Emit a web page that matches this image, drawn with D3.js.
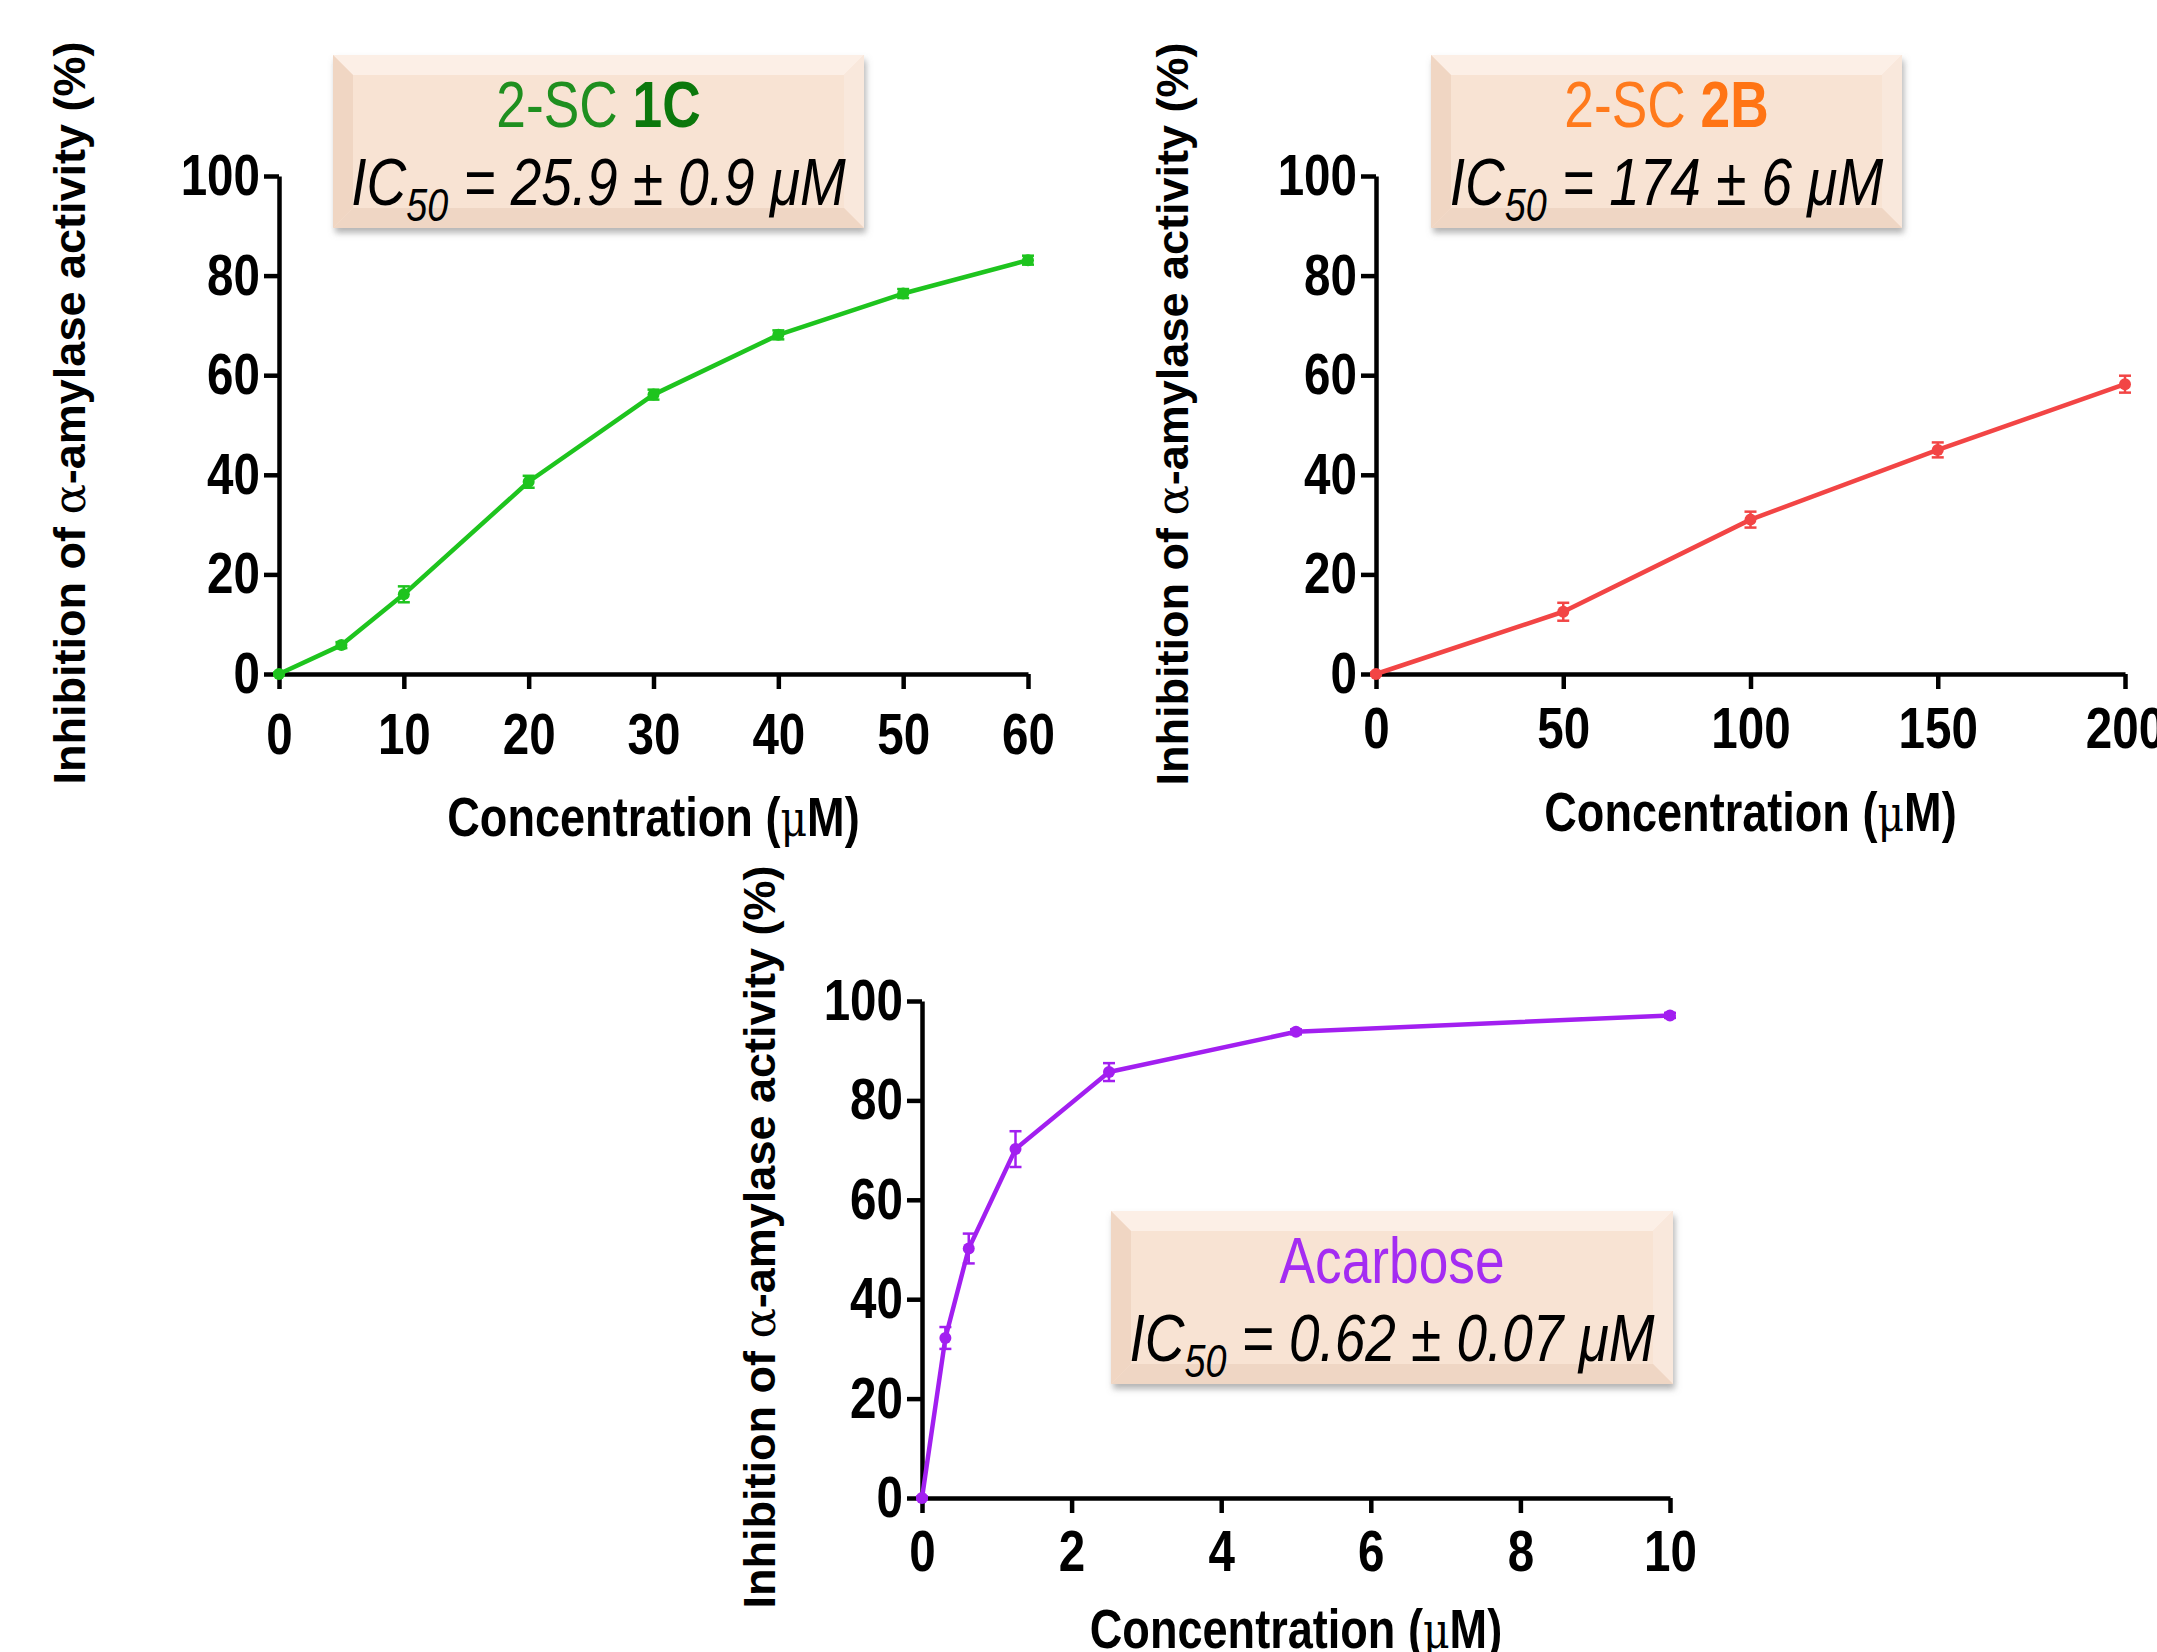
<!DOCTYPE html>
<html>
<head>
<meta charset="utf-8">
<script src="https://cdn.jsdelivr.net/npm/d3@7"></script>
<style>
  html, body { margin: 0; padding: 0; background: #fff; }
  svg { display: block; }
  text { font-family: "Liberation Sans", Arial, sans-serif; }
</style>
</head>
<body>
<script>
// Data
var conc1C = [0, 5, 10, 20, 30, 40, 50, 60];
var inh1C = [0, 5.8, 16, 38.6, 56.1, 68.1, 76.4, 83.1];
var err1C = [0.3, 0.6, 1.6, 1.2, 1.0, 0.9, 0.9, 0.9];

var conc2B = [0, 50, 100, 150, 200];
var inh2B = [0, 12.5, 31, 45, 58.2];
var err2B = [0.3, 1.8, 1.6, 1.5, 1.7];

var concAca = [0, 0.3125, 0.625, 1.25, 2.5, 5, 10];
var inhAca = [0, 32.2, 50.2, 70.2, 85.7, 93.8, 97.1];
var errAca = [0.3, 2.2, 3.0, 3.6, 1.8, 0.5, 0.5];

var yTicks = [0, 20, 40, 60, 80, 100];
var xTicks1C = [0, 10, 20, 30, 40, 50, 60];
var xTicks2B = [0, 50, 100, 150, 200];
var xTicksAca = [0, 2, 4, 6, 8, 10];

var yTitle = "Inhibition of ";
var xTitle = "Concentration (";

var W = 2157, H = 1652;
var SQ = 0.82; // horizontal squeeze, stands in for a narrow face

var svg = d3.select("body")
        .append("svg")
        .attr("width", W)
        .attr("height", H);

// drop shadow for the label boxes
var defs = svg.append("defs");
var f = defs.append("filter").attr("id", "shadow")
        .attr("x", "-10%").attr("y", "-10%").attr("width", "125%").attr("height", "140%");
f.append("feDropShadow").attr("dx", 2).attr("dy", 5).attr("stdDeviation", 3)
        .attr("flood-color", "#777").attr("flood-opacity", 0.55);

var panels = [
    {xs: conc1C, ys: inh1C, es: err1C, ticks: xTicks1C, xMax: 60,
     left: 279, right: 1028, top: 176, bottom: 674, color: "#1ec41e",
     xPad: 24, xTitleY: 836, yTitleX: 69, yTitleY: 413,
     box: [333, 55, 864, 228], name: "2-SC ", bold: "1C", nameColor: "#1f8f1f", boldColor: "#0c780c",
     ic: ["25.9", "0.9"]},
    {xs: conc2B, ys: inh2B, es: err2B, ticks: xTicks2B, xMax: 200,
     left: 1376, right: 2125, top: 176, bottom: 674, color: "#f24545",
     xPad: 18, xTitleY: 831, yTitleX: 1172, yTitleY: 414,
     box: [1431, 55, 1902, 228], name: "2-SC ", bold: "2B", nameColor: "#ff7a1c", boldColor: "#ff7414",
     ic: ["174", "6"]},
    {xs: concAca, ys: inhAca, es: errAca, ticks: xTicksAca, xMax: 10,
     left: 922, right: 1670, top: 1001, bottom: 1498, color: "#a21ff0",
     xPad: 17, xTitleY: 1648, yTitleX: 759, yTitleY: 1237,
     box: [1111, 1211, 1673, 1384], name: "Acarbose", bold: "", nameColor: "#a42cf2", boldColor: "#a42cf2",
     ic: ["0.62", "0.07"]}
];

panels.forEach(function(p) {
    var x = d3.scaleLinear().domain([0, p.xMax]).range([p.left, p.right]);
    var y = d3.scaleLinear().domain([0, 100]).range([p.bottom, p.top]);
    var g = svg.append("g");

    // axes
    var ya = g.append("g").attr("transform", "translate(" + p.left + ",0)")
            .call(d3.axisLeft(y).tickValues(yTicks).tickSize(15).tickPadding(4).tickSizeOuter(0));
    var xa = g.append("g").attr("transform", "translate(0," + p.bottom + ")")
            .call(d3.axisBottom(x).tickValues(p.ticks).tickSize(15).tickPadding(p.xPad).tickSizeOuter(0));
    [ya, xa].forEach(function(a) {
        a.select(".domain").attr("stroke", "#000").attr("stroke-width", 4.5);
        a.selectAll(".tick line").attr("stroke", "#000").attr("stroke-width", 4.5);
        a.selectAll("text")
                .attr("font-family", "Liberation Sans, Arial, sans-serif")
                .attr("font-size", 58).attr("font-weight", "bold").attr("fill", "#000")
                .attr("x", function() { return (+d3.select(this).attr("x") || 0) / SQ; })
                .attr("transform", "scale(" + SQ + ",1)");
    });

    // line
    var line = d3.line().x(function(d, i) { return x(p.xs[i]); })
            .y(function(d) { return y(d); });
    g.append("path").datum(p.ys).attr("d", line)
            .attr("fill", "none").attr("stroke", p.color).attr("stroke-width", 4.5)
            .attr("stroke-linejoin", "round");

    // error bars
    var eb = g.selectAll(".eb").data(p.ys).enter().append("g");
    eb.append("line")
            .attr("x1", function(d, i) { return x(p.xs[i]); })
            .attr("x2", function(d, i) { return x(p.xs[i]); })
            .attr("y1", function(d, i) { return y(d + p.es[i]); })
            .attr("y2", function(d, i) { return y(d - p.es[i]); })
            .attr("stroke", p.color).attr("stroke-width", 2.5);
    [1, -1].forEach(function(s) {
        eb.append("line")
                .attr("x1", function(d, i) { return x(p.xs[i]) - 6; })
                .attr("x2", function(d, i) { return x(p.xs[i]) + 6; })
                .attr("y1", function(d, i) { return y(d + s * p.es[i]); })
                .attr("y2", function(d, i) { return y(d + s * p.es[i]); })
                .attr("stroke", p.color).attr("stroke-width", 2.5);
    });
    g.selectAll(".pt").data(p.ys).enter().append("circle")
            .attr("cx", function(d, i) { return x(p.xs[i]); })
            .attr("cy", function(d) { return y(d); })
            .attr("r", 6).attr("fill", p.color);

    // axis titles
    var xt = g.append("text")
            .attr("transform", "translate(" + (p.left + p.right) / 2 + "," + p.xTitleY + ") scale(" + SQ + ",1)")
            .attr("text-anchor", "middle").attr("font-size", 55).attr("font-weight", "bold");
    xt.append("tspan").text(xTitle);
    xt.append("tspan").attr("font-family", "DejaVu Serif").attr("font-weight", "normal")
            .attr("font-size", 50).text("\u03bc");
    xt.append("tspan").text("M)");

    var yt = g.append("text")
            .attr("transform", "translate(" + p.yTitleX + "," + p.yTitleY + ") rotate(-90)")
            .attr("dy", "0.35em").attr("text-anchor", "middle")
            .attr("font-size", 45).attr("font-weight", "bold");
    yt.append("tspan").text(yTitle);
    yt.append("tspan").attr("font-family", "DejaVu Serif").attr("font-weight", "normal").text("\u03b1");
    yt.append("tspan").text("-amylase activity (%)");

    // label box with bevel
    var b = p.box, bw = 20;
    var bg = svg.append("g");
    bg.append("rect").attr("x", b[0]).attr("y", b[1]).attr("width", b[2] - b[0]).attr("height", b[3] - b[1])
            .attr("fill", "#f8e3d3").attr("filter", "url(#shadow)");
    var faces = [
        [[b[0], b[1]], [b[2], b[1]], [b[2] - bw, b[1] + bw], [b[0] + bw, b[1] + bw], "#fcefe6"],
        [[b[0], b[1]], [b[0] + bw, b[1] + bw], [b[0] + bw, b[3] - bw], [b[0], b[3]], "#f0d6c3"],
        [[b[2], b[1]], [b[2], b[3]], [b[2] - bw, b[3] - bw], [b[2] - bw, b[1] + bw], "#f9e8dc"],
        [[b[0], b[3]], [b[0] + bw, b[3] - bw], [b[2] - bw, b[3] - bw], [b[2], b[3]], "#efd6c4"]
    ];
    faces.forEach(function(fc) {
        bg.append("polygon").attr("points", fc.slice(0, 4).map(function(q) { return q.join(","); }).join(" "))
                .attr("fill", fc[4]);
    });
    var cx = (b[0] + b[2]) / 2;
    var t1 = bg.append("text")
            .attr("transform", "translate(" + cx + "," + (b[1] + 72) + ") scale(" + SQ + ",1)")
            .attr("text-anchor", "middle").attr("font-size", 65).attr("fill", p.nameColor);
    t1.append("tspan").text(p.name);
    if (p.bold) t1.append("tspan").attr("font-weight", "bold").attr("fill", p.boldColor).text(p.bold);

    var t2 = bg.append("text")
            .attr("transform", "translate(" + cx + "," + (b[1] + 150) + ") scale(" + SQ + ",1)")
            .attr("text-anchor", "middle").attr("font-size", 67).attr("font-style", "italic").attr("fill", "#000");
    t2.append("tspan").text("IC");
    t2.append("tspan").attr("font-size", 46).attr("dy", 16).text("50");
    t2.append("tspan").attr("dy", -16).text(" = " + p.ic[0] + " \u00b1 " + p.ic[1] + " \u03bcM");
});
</script>
</body>
</html>
